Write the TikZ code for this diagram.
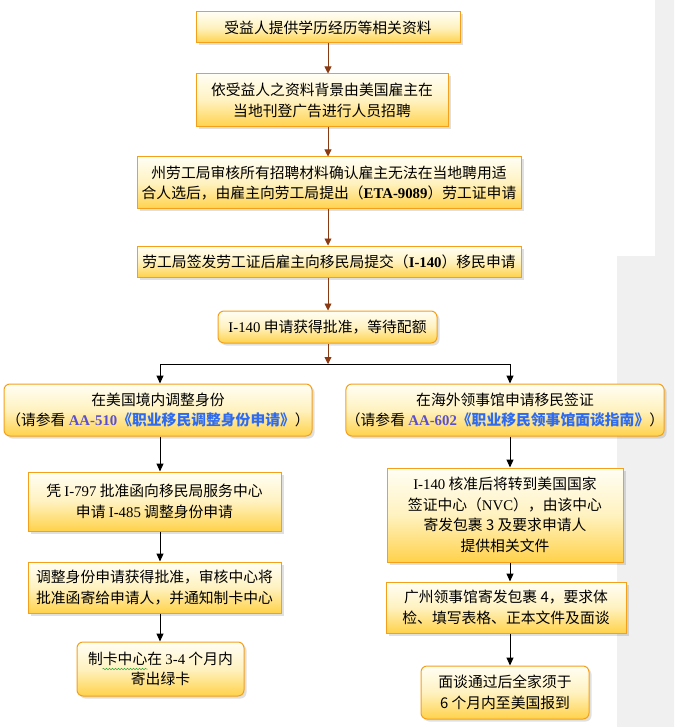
\documentclass[tikz,border=0pt]{standalone}
\usepackage{fontspec}
\setmainfont{Liberation Serif}
\newfontfamily\cjk{Noto Sans CJK SC}
\usetikzlibrary{arrows.meta,shadows,decorations.pathmorphing}
\definecolor{boxline}{HTML}{F5A01A}
\definecolor{boxtop}{HTML}{FFFEF4}
\definecolor{boxmid}{HTML}{FFF2C0}
\definecolor{boxbot}{HTML}{FFD24A}
\definecolor{arrowbrown}{HTML}{8A3A12}
\definecolor{guideblue}{HTML}{2E6BF0}
\definecolor{guidepurple}{HTML}{5A4FD0}
\definecolor{sidegray}{HTML}{F0F0F0}
\definecolor{spellgreen}{HTML}{3AA33A}
\newcommand{\en}[1]{{\rmfamily #1}}
\newcommand{\guide}[2]{{\rmfamily\bfseries\color{guidepurple}#1}{\bfseries\color{guideblue}#2}}
\newcommand{\flownode}[6]{\node[#1, minimum width=#4, minimum height=#5] (#2) at (#3) {#6};}

\begin{document}
\begin{tikzpicture}[x=1pt, y=-1pt,
  flowbox/.style={draw=boxline, line width=1pt, top color=boxtop, bottom color=boxbot,
    middle color=boxmid, drop shadow={shadow xshift=2.5pt, shadow yshift=-2.5pt, fill=black, opacity=0.12},
    align=center, inner sep=0pt, font=\cjk\fontsize{14.8}{20.5}\selectfont},
  roundbox/.style={flowbox, rounded corners=6pt},
  brownarrow/.style={draw=arrowbrown, line width=0.9pt, -{Triangle[width=7pt, length=7pt]}},
  blackarrow/.style={draw=black, line width=1pt, -{Triangle[width=7pt, length=8pt]}}]

  \useasboundingbox (0,0) rectangle (674,727);
  \fill[white] (0,0) rectangle (674,727);
  \fill[sidegray] (655,0) -- (674,0) -- (674,727) -- (617,727) -- (617,256) -- (655,256) -- cycle;

  % Labour certification
  % --------------------

  \flownode{flowbox}{b1}{328,27.5}{264pt}{31pt}{受益人提供学历经历等相关资料}
  \flownode{flowbox}{b2}{322,100.5}{252pt}{53pt}{依受益人之资料背景由美国雇主在\\当地刊登广告进行人员招聘}
  \flownode{flowbox}{b3}{329,183}{384pt}{52pt}{州劳工局审核所有招聘材料确认雇主无法在当地聘用适\\合人选后，由雇主向劳工局提出（\en{\bfseries ETA-9089}）劳工证申请}
  \flownode{flowbox}{b4}{329,261.5}{384pt}{31pt}{劳工局签发劳工证后雇主向移民局提交（\en{\bfseries I-140}）移民申请}
  \flownode{roundbox}{b5}{327.5,327}{219pt}{32pt}{\en{I-140} 申请获得批准，等待配额}

  \draw[brownarrow] (b1.south) -- (b1.south |- b2.north);
  \draw[brownarrow] (b1.south |- b2.south) -- (b1.south |- b3.north);
  \draw[brownarrow] (b1.south |- b3.south) -- (b1.south |- b4.north);
  \draw[brownarrow] (b1.south |- b4.south) -- (b1.south |- b5.north);

  % Split
  % -----

  \coordinate (split) at (328,364);
  \coordinate (lsplit) at (160,364);
  \coordinate (rsplit) at (510,364);
  \draw[brownarrow] (b1.south |- b5.south) -- (split);
  \draw[black, line width=1pt] (lsplit) -- (rsplit);

  \flownode{roundbox}{b6}{158,410}{308pt}{52pt}{在美国境内调整身份\\（请参看 \guide{AA-510}{《职业移民调整身份申请》}）}
  \flownode{roundbox}{b7}{505,410}{318pt}{52pt}{在海外领事馆申请移民签证\\（请参看 \guide{AA-602}{《职业移民领事馆面谈指南》}）}

  \draw[blackarrow] (lsplit) -- (lsplit |- b6.north);
  \draw[blackarrow] (rsplit) -- (rsplit |- b7.north);

  % Adjustment of status
  % --------------------

  \flownode{flowbox}{b8}{154.5,501.5}{253pt}{59pt}{凭 \en{I-797} 批准函向移民局服务中心\\申请 \en{I-485} 调整身份申请}
  \flownode{flowbox}{b9}{154.5,587.5}{253pt}{51pt}{调整身份申请获得批准，审核中心将\\批准函寄给申请人，并通知制卡中心}
  \flownode{roundbox}{b10}{160.5,669}{167pt}{54pt}{制卡中心在 \en{3-4} 个月内\\寄出绿卡}
  \draw[spellgreen, line width=0.5pt, decorate, decoration={snake, amplitude=0.8pt, segment length=3pt}]
    ([xshift=26pt]b10.west) -- ([xshift=71pt]b10.west);

  \draw[blackarrow] (lsplit |- b6.south) -- (lsplit |- b8.north);
  \draw[blackarrow] (lsplit |- b8.south) -- (lsplit |- b9.north);
  \draw[blackarrow] (lsplit |- b9.south) -- (lsplit |- b10.north);

  % Consular processing
  % -------------------

  \flownode{flowbox}{b11}{505,515}{236pt}{94pt}{\en{I-140} 核准后将转到美国国家\\签证中心（\en{NVC}），由该中心\\寄发包裹 3 及要求申请人\\提供相关文件}
  \flownode{flowbox}{b12}{506,607.5}{240pt}{51pt}{广州领事馆寄发包裹 4，要求体\\检、填写表格、正本文件及面谈}
  \flownode{roundbox}{b13}{505,692.5}{168pt}{53pt}{面谈通过后全家须于\\6 个月内至美国报到}

  \draw[blackarrow] (rsplit |- b7.south) -- (rsplit |- b11.north);
  \draw[blackarrow] (rsplit |- b11.south) -- (rsplit |- b12.north);
  \draw[blackarrow] (rsplit |- b12.south) -- (rsplit |- b13.north);

\end{tikzpicture}
\end{document}
